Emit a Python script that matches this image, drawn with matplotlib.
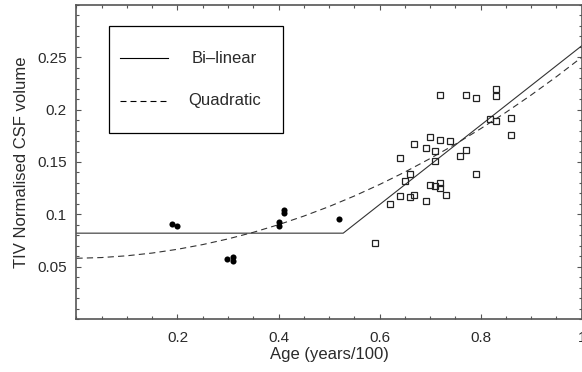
import matplotlib
matplotlib.use('Agg')
import matplotlib.pyplot as plt
from matplotlib.patches import Rectangle
from matplotlib.lines import Line2D
from matplotlib.ticker import MultipleLocator

plt.rcParams['font.family'] = ['Liberation Sans', 'DejaVu Sans']
plt.rcParams['lines.scale_dashes'] = False

# young subjects (filled dots)
young_age = [0.189, 0.199, 0.298, 0.310, 0.310, 0.400, 0.400, 0.410, 0.410, 0.520]
young_csf = [0.091, 0.089, 0.057, 0.0595, 0.055, 0.0927, 0.0888, 0.101, 0.104, 0.0955]

# older subjects (open squares)
old_age = [0.720, 0.771, 0.790, 0.830, 0.830, 0.819, 0.830, 0.860, 0.860, 0.699,
           0.669, 0.720, 0.739, 0.691, 0.709, 0.771, 0.760, 0.640, 0.709, 0.790,
           0.661, 0.651, 0.699, 0.720, 0.709, 0.720, 0.731, 0.640, 0.661, 0.669,
           0.691, 0.621, 0.590]
old_csf = [0.2137, 0.2137, 0.2108, 0.220, 0.213, 0.1913, 0.189, 0.1923, 0.176, 0.1738,
           0.1668, 0.1706, 0.1697, 0.1636, 0.1604, 0.1617, 0.1554, 0.1535, 0.1509, 0.1382,
           0.1382, 0.132, 0.1277, 0.130, 0.127, 0.125, 0.1187, 0.1175, 0.1168, 0.1187,
           0.1124, 0.1095, 0.0726]

# bi-linear fit (knots)
bilin_x = [0.0, 0.528, 1.0]
bilin_y = [0.082, 0.082, 0.261]

# quadratic fit
quad_x = [0.0, 0.05, 0.1, 0.15, 0.2, 0.25, 0.3, 0.35, 0.4, 0.45, 0.5,
          0.55, 0.6, 0.65, 0.7, 0.75, 0.8, 0.85, 0.9, 0.95, 1.0]
quad_y = [0.058, 0.0587, 0.0604, 0.0630, 0.0666, 0.0711, 0.0765, 0.0828, 0.0901, 0.0983, 0.1074,
          0.1175, 0.1285, 0.1404, 0.1533, 0.1670, 0.1818, 0.1974, 0.2140, 0.2315, 0.2500]

xticks = [0.2, 0.4, 0.6, 0.8, 1.0]
xticklabels = ['0.2', '0.4', '0.6', '0.8', '1']
yticks = [0.05, 0.1, 0.15, 0.2, 0.25]
yticklabels = ['0.05', '0.1', '0.15', '0.2', '0.25']

txt = '#2a2a2a'
frame = '#555555'

fig = plt.figure(figsize=(5.82, 3.72), dpi=100)
ax = fig.add_axes([0.1313, 0.1425, 0.8682, 0.8441])

ax.plot(bilin_x, bilin_y, color='#333333', lw=0.8)
ax.plot(quad_x, quad_y, color='#333333', lw=0.8, dashes=(4.5, 3))
ax.plot(young_age, young_csf, 'o', color='black', ms=4.4, mew=0)
ax.plot(old_age, old_csf, 's', mfc='none', mec='#222222', ms=4.6, mew=0.9)

ax.set_xlim(0, 1)
ax.set_ylim(0, 0.3)
ax.set_xticks(xticks)
ax.set_xticklabels(xticklabels)
ax.set_yticks(yticks)
ax.set_yticklabels(yticklabels)
ax.xaxis.set_minor_locator(MultipleLocator(0.05))
ax.yaxis.set_minor_locator(MultipleLocator(0.01))
ax.tick_params(which='both', direction='in', top=True, right=True,
               colors=frame, labelcolor=txt, labelsize=11, width=0.8)
ax.tick_params(which='major', length=3.5)
ax.tick_params(which='minor', length=2.2)
ax.tick_params(axis='y', pad=7)
ax.tick_params(axis='x', pad=9)
for s in ax.spines.values():
    s.set_color(frame)
    s.set_linewidth(1.2)

ax.set_xlabel('Age (years/100)', fontsize=12, color=txt, labelpad=1)
ax.set_ylabel('TIV Normalised CSF volume', fontsize=12, color=txt, labelpad=6)

# legend box drawn by hand
ax.add_patch(Rectangle((0.0651, 0.5914), 0.3432, 0.3426, transform=ax.transAxes,
                       fill=False, ec='black', lw=0.9, zorder=5))
ax.add_line(Line2D([0.0863, 0.1813], [0.830, 0.830], transform=ax.transAxes,
                   color='black', lw=0.8, zorder=6))
ax.add_line(Line2D([0.0863, 0.1813], [0.695, 0.695], transform=ax.transAxes,
                   color='black', lw=0.8, dashes=(4.3, 2.9), zorder=6))
ax.text(0.293, 0.830, 'Bi\u2013linear', transform=ax.transAxes, ha='center', va='center',
        fontsize=12, color=txt)
ax.text(0.293, 0.695, 'Quadratic', transform=ax.transAxes, ha='center', va='center',
        fontsize=12, color=txt)

fig.savefig('out.png', dpi=100)
